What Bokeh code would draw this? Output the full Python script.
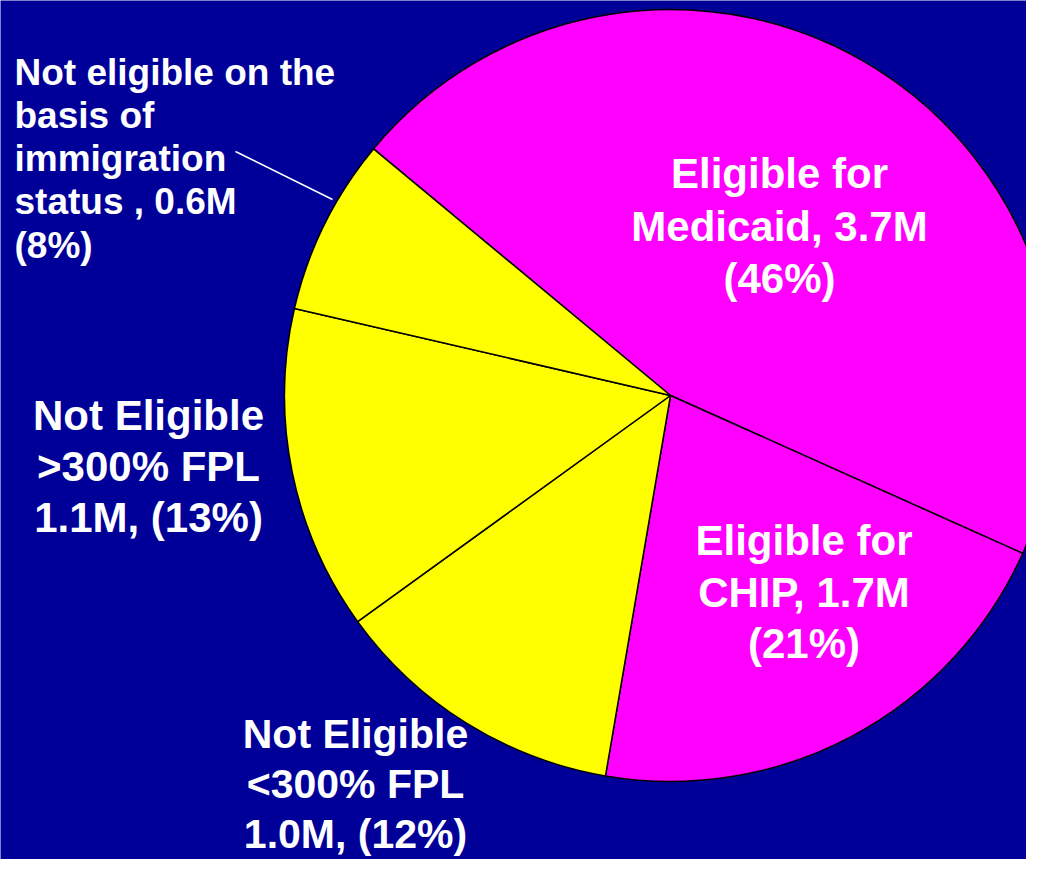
import numpy as np
from bokeh.plotting import figure
from bokeh.models import Range1d, ColumnDataSource
from bokeh.core.properties import value
from bokeh.embed import file_html
from bokeh.resources import INLINE

# ---- data ----
categories = ["Eligible for Medicaid", "Eligible for CHIP", "Not Eligible <300% FPL",
              "Not Eligible >300% FPL", "Not eligible on the basis of immigration status"]
millions = [3.7, 1.7, 1.0, 1.1, 0.6]
percents = [46, 21, 12, 13, 8]
colors = ["#FF00FF", "#FF00FF", "#FFFF00", "#FFFF00", "#FFFF00"]
label_lines = [
    ["Eligible for", "Medicaid, 3.7M", "(46%)"],
    ["Eligible for", "CHIP, 1.7M", "(21%)"],
    ["Not Eligible", "<300% FPL", "1.0M, (12%)"],
    ["Not Eligible", ">300% FPL", "1.1M, (13%)"],
    ["Not eligible on the", "basis of", "immigration", "status , 0.6M", "(8%)"],
]

# ---- layout (reference pixel coordinates; y measured downward) ----
H = 875
W_PLOT, H_PLOT = 1026, 859
CX, CY, R = 670, 395, 386
START_DEG = 140.3
BG = "#000099"

def Y(ypix):
    return H - ypix

vals = np.array(millions, dtype=float)
spans = vals / vals.sum() * 2 * np.pi
cum_before = np.concatenate([[0.0], np.cumsum(spans)[:-1]])
upper = np.deg2rad(START_DEG) - cum_before
lower = upper - spans

p = figure(width=W_PLOT, height=H_PLOT, x_range=Range1d(0, W_PLOT), y_range=Range1d(H - H_PLOT, H),
           x_axis_type=None, y_axis_type=None, toolbar_location=None,
           output_backend="svg", min_border=0)
p.background_fill_color = BG
p.border_fill_color = BG
p.outline_line_color = None
p.grid.visible = False

src = ColumnDataSource(dict(start=lower, end=upper, color=colors, cat=categories))
p.wedge(x=CX, y=Y(CY), radius=R, start_angle="start", end_angle="end",
        fill_color="color", line_color="black", line_width=1.5, source=src)

# label anchor points (x, first-line center y, line spacing, font size, align)
label_layout = [
    (779, 173, 52.5, "42px", "center"),
    (803.5, 540, 51.5, "42px", "center"),
    (355, 733, 50, "41px", "center"),
    (148, 414.5, 51, "42px", "center"),
    (14, 71.8, 43.2, "37px", "left"),
]

for lines, (lx, ly, dy, fs, al) in zip(label_lines, label_layout):
    xs = [lx] * len(lines)
    ys = [Y(ly + i * dy) for i in range(len(lines))]
    p.text(x=xs, y=ys, text=lines, text_font=value("Liberation Sans"),
           text_font_style="bold", text_font_size=fs, text_color="white",
           text_align=al, text_baseline="middle")

# leader line for immigration label
p.line(x=[235, 332], y=[Y(151), Y(199)], line_color="white", line_width=1.5)

open("out.html", "w").write(file_html(p, INLINE))
